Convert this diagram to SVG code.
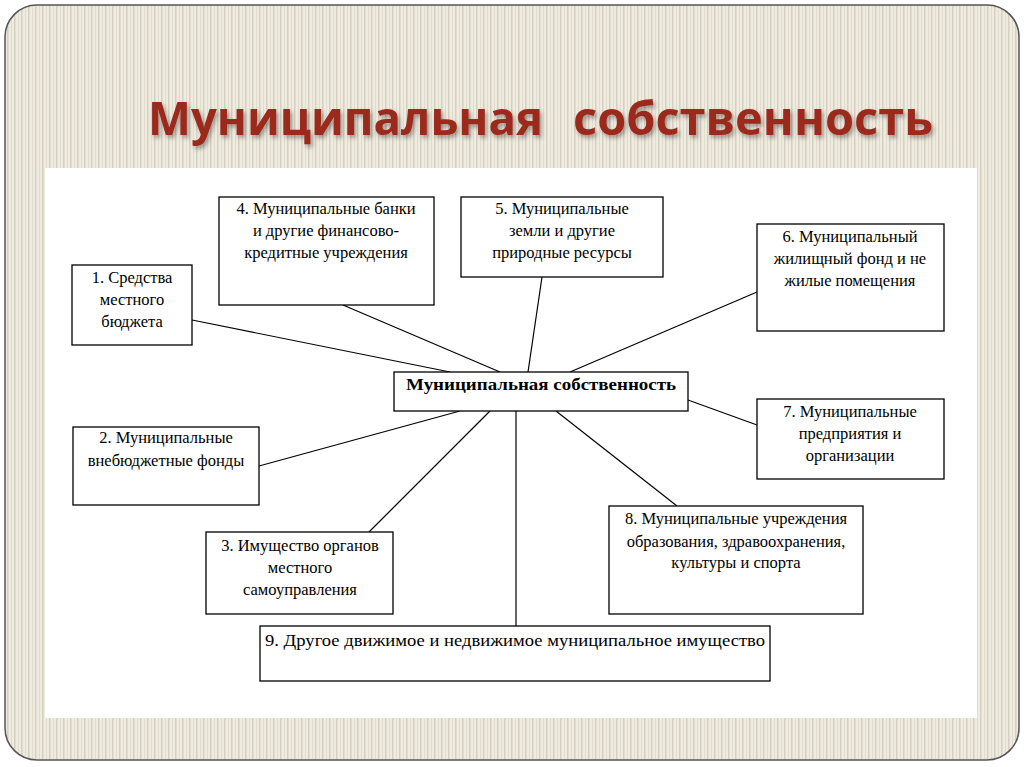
<svg xmlns="http://www.w3.org/2000/svg" width="1024" height="767" viewBox="0 0 1024 767">
<defs>
<pattern id="st" width="7" height="10" patternUnits="userSpaceOnUse">
<rect width="7" height="10" fill="#f0ebdf"/>
<rect x="0" width="1.5" height="10" fill="#d6d0c2"/>
<rect x="4" width="1" height="10" fill="#e2dccf"/>
</pattern>
<filter id="sh" x="-5%" y="-20%" width="110%" height="150%"><feDropShadow dx="2" dy="3" stdDeviation="2" flood-color="#000" flood-opacity="0.35"/></filter>
<style>
.b{fill:#fff;stroke:#000;stroke-width:1.3}
.t{font-family:"Liberation Serif","DejaVu Serif",serif;font-size:16.5px;fill:#000;text-anchor:middle}
.c line{stroke:#000;stroke-width:1.2}
</style>
</defs>
<rect x="0" y="0" width="1024" height="767" fill="#fff"/>
<rect x="5" y="5" width="1014" height="755" rx="32" fill="url(#st)" stroke="#555" stroke-width="1.5"/>
<text x="148" y="135" font-family="'Open Sans','Liberation Sans',sans-serif" font-weight="bold" font-size="46" fill="#9b2a1f" filter="url(#sh)"><tspan x="148" textLength="395" lengthAdjust="spacingAndGlyphs">Муниципальная</tspan><tspan x="573" textLength="360" lengthAdjust="spacingAndGlyphs">собственность</tspan></text>
<rect x="45" y="168" width="932" height="550" fill="#fff"/>
<g class="c">
<line x1="192" y1="320" x2="450" y2="372"/>
<line x1="343" y1="305" x2="500" y2="372"/>
<line x1="542" y1="277" x2="528" y2="372"/>
<line x1="757" y1="292" x2="570" y2="372"/>
<line x1="688" y1="400" x2="757" y2="425"/>
<line x1="259" y1="466" x2="460" y2="411"/>
<line x1="369" y1="532" x2="490" y2="411"/>
<line x1="556" y1="411" x2="677" y2="506"/>
<line x1="516" y1="411" x2="516" y2="626"/>
</g>
<g id="center"><rect class="b" x="394" y="372" width="294" height="39"/><text class="t" x="541" y="390" font-weight="bold" textLength="270" lengthAdjust="spacingAndGlyphs">Муниципальная собственность</text></g>
<g id="n1"><rect class="b" x="72" y="265" width="120" height="80"/><text class="t" x="132" y="283">1. Средства</text><text class="t" x="132" y="305">местного</text><text class="t" x="132" y="327">бюджета</text></g>
<g id="n4"><rect class="b" x="219" y="197" width="215" height="108"/><text class="t" x="326" y="214">4. Муниципальные банки</text><text class="t" x="326" y="236">и другие финансово-</text><text class="t" x="326" y="258">кредитные учреждения</text></g>
<g id="n5"><rect class="b" x="461" y="197" width="202" height="80"/><text class="t" x="562" y="214">5. Муниципальные</text><text class="t" x="562" y="236">земли и другие</text><text class="t" x="562" y="258">природные ресурсы</text></g>
<g id="n6"><rect class="b" x="757" y="224" width="187" height="107"/><text class="t" x="850" y="242">6. Муниципальный</text><text class="t" x="850" y="264">жилищный фонд и не</text><text class="t" x="850" y="286">жилые помещения</text></g>
<g id="n2"><rect class="b" x="73" y="427" width="186" height="78"/><text class="t" x="166" y="443">2. Муниципальные</text><text class="t" x="166" y="466">внебюджетные фонды</text></g>
<g id="n7"><rect class="b" x="757" y="399" width="187" height="80"/><text class="t" x="850" y="417">7. Муниципальные</text><text class="t" x="850" y="439">предприятия и</text><text class="t" x="850" y="461">организации</text></g>
<g id="n3"><rect class="b" x="206" y="532" width="187" height="82"/><text class="t" x="300" y="551">3. Имущество органов</text><text class="t" x="300" y="573">местного</text><text class="t" x="300" y="595">самоуправления</text></g>
<g id="n8"><rect class="b" x="609" y="506" width="254" height="108"/><text class="t" x="736" y="524">8. Муниципальные учреждения</text><text class="t" x="736" y="547">образования, здравоохранения,</text><text class="t" x="736" y="568">культуры и спорта</text></g>
<g id="n9"><rect class="b" x="260" y="626" width="510" height="55"/><text class="t" x="265" y="646" style="text-anchor:start" textLength="500" lengthAdjust="spacingAndGlyphs">9. Другое движимое и недвижимое муниципальное имущество</text></g>
</svg>
